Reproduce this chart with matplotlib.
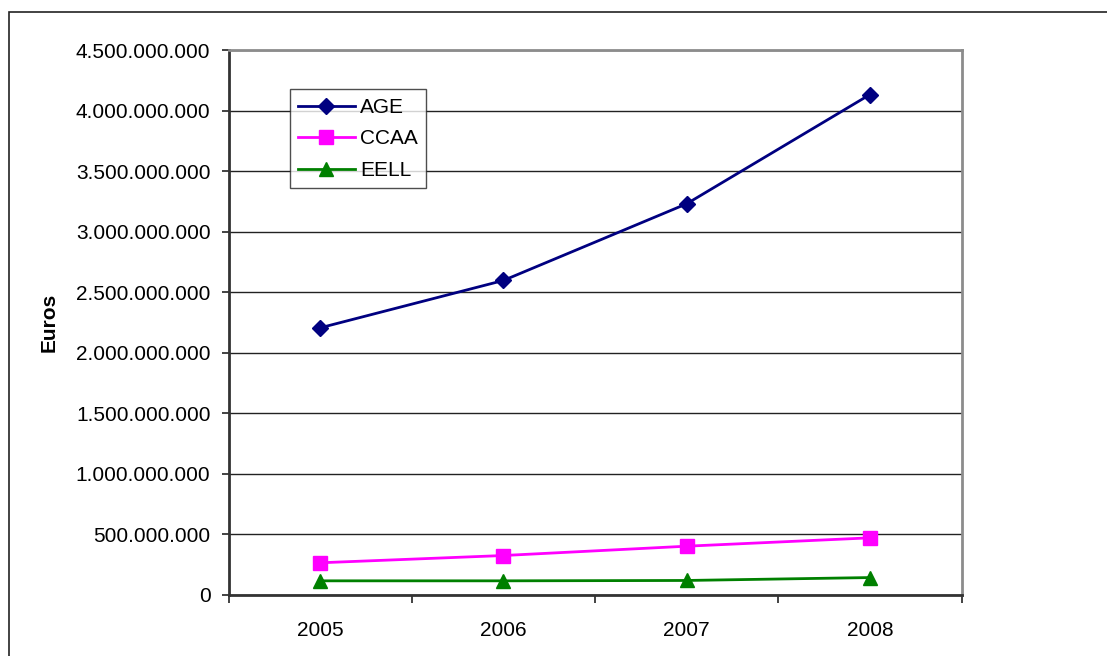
import matplotlib
matplotlib.use("Agg")
import matplotlib.pyplot as plt
from matplotlib.ticker import FuncFormatter, FixedLocator
from matplotlib.patches import Rectangle

years = ["2005", "2006", "2007", "2008"]
age = [2_206_000_000, 2_597_000_000, 3_230_000_000, 4_132_000_000]
ccaa = [266_000_000, 326_000_000, 403_000_000, 472_000_000]
eell = [117_000_000, 117_000_000, 120_000_000, 144_000_000]

plt.rcParams["font.family"] = ["Liberation Sans", "DejaVu Sans"]
FS = 15

W, H = 1107, 656
fig = plt.figure(figsize=(W / 100, H / 100), dpi=100)
fig.patch.set_facecolor("white")

# chart frame (left and top edges visible)
fig.patches.append(Rectangle((8.5 / W, -0.05), 1.2, (H - 12) / H + 0.05,
                             transform=fig.transFigure, fill=False,
                             edgecolor="#222222", linewidth=1.2))

ax = fig.add_axes([228.5 / W, (H - 595) / H, 733 / W, 545 / H])

x = list(range(len(years)))
ax.plot(x, age, color="#000080", marker="D", markersize=8, linewidth=2, label="AGE", zorder=3)
ax.plot(x, ccaa, color="#FF00FF", marker="s", markersize=10, linewidth=2, label="CCAA", zorder=3)
ax.plot(x, eell, color="#008000", marker="^", markersize=10, linewidth=2, label="EELL", zorder=3)

ax.set_xlim(-0.5, len(years) - 0.5)
ax.set_ylim(0, 4_500_000_000)

yt = [i * 500_000_000 for i in range(10)]
ax.set_yticks(yt)
ax.yaxis.set_major_formatter(FuncFormatter(lambda v, p: f"{int(round(v)):,}".replace(",", ".")))
ax.yaxis.grid(True, color="#222222", linewidth=1.0)
ax.set_axisbelow(True)

# category boundaries carry the tick marks, centres carry the labels
ax.xaxis.set_major_locator(FixedLocator([i - 0.5 for i in range(len(years) + 1)]))
ax.xaxis.set_minor_locator(FixedLocator(x))
ax.set_xticklabels([])
ax.set_xticklabels(years, minor=True)
ax.tick_params(axis="x", which="major", length=6, width=1.2, color="#222222", direction="out")
ax.tick_params(axis="x", which="minor", length=0, pad=19, labelsize=FS)
ax.tick_params(axis="y", length=5, width=1.2, color="#222222", pad=8, labelsize=FS)

for side in ("top", "right"):
    ax.spines[side].set_color("#8c8c8c")
    ax.spines[side].set_linewidth(2)
for side in ("left", "bottom"):
    ax.spines[side].set_color("#333333")
    ax.spines[side].set_linewidth(2)

ax.set_ylabel("Euros", fontsize=FS, fontweight="bold")
ax.yaxis.set_label_coords(-0.232, 0.5)

leg = ax.legend(loc="upper left", bbox_to_anchor=(61.5 / 733, 1 - 39.5 / 545),
                fontsize=FS, frameon=True, fancybox=False, borderaxespad=0,
                handlelength=2.7, handletextpad=0.25, borderpad=0.4,
                labelspacing=0.6)
leg.get_frame().set_edgecolor("#222222")
leg.get_frame().set_linewidth(1.0)

fig.savefig("out.png", dpi=100, facecolor="white")
